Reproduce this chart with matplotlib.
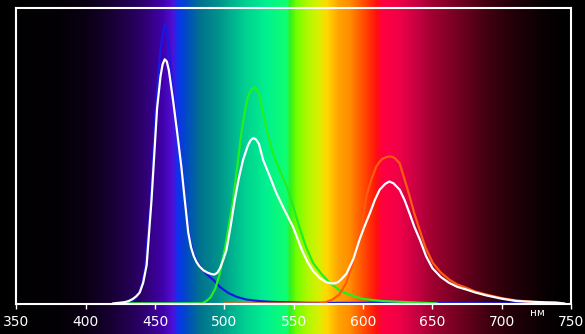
import numpy as np
import matplotlib.pyplot as plt

# spectrum readings, wavelength in nm, level 0..1 of the frame height
wl_white = [420, 428, 431, 434, 436.5, 439, 441.5, 444, 447.5, 451.5, 454, 455.5, 457, 458.5, 460,
            463, 466, 469, 471.5, 474, 476, 478, 480, 482, 485, 488, 491, 493, 495, 497, 499,
            501.5, 504.5, 507.5, 510.5, 513.5, 517, 519, 521, 523, 525, 528, 532, 537.5, 543,
            549.5, 556, 560, 564, 569, 573.5, 577, 579.5, 582, 584, 588, 593, 597.5, 601, 605,
            608.5, 612, 616, 619, 622, 626.5, 630, 633.5, 637, 641, 645.5, 650, 656, 662, 668,
            674.5, 681, 689, 700, 710.5, 720, 730, 739, 745]
white = [0.0, 0.004, 0.008, 0.015, 0.024, 0.037, 0.07, 0.13, 0.35, 0.66, 0.77, 0.81, 0.827, 0.82,
         0.79, 0.69, 0.58, 0.464, 0.35, 0.24, 0.19, 0.16, 0.14, 0.126, 0.112, 0.104, 0.099, 0.098,
         0.104, 0.12, 0.145, 0.18, 0.26, 0.35, 0.425, 0.486, 0.535, 0.553, 0.56, 0.555, 0.54,
         0.486, 0.44, 0.374, 0.32, 0.26, 0.18, 0.14, 0.11, 0.085, 0.072, 0.068, 0.068, 0.072,
         0.08, 0.10, 0.15, 0.216, 0.26, 0.306, 0.35, 0.385, 0.405, 0.413, 0.407, 0.385, 0.35,
         0.306, 0.26, 0.216, 0.16, 0.12, 0.09, 0.07, 0.056, 0.047, 0.037, 0.027, 0.016, 0.008,
         0.006, 0.004, 0.003, 0.0]

wl_blue = [425, 432, 435, 438, 440.5, 443, 447, 451, 454, 455.5, 457, 458.5, 460, 463, 466, 469,
           471.5, 474, 476, 478, 480, 482, 487, 492, 497, 503, 509, 516, 525, 535, 560, 740]
blue = [0.0, 0.005, 0.014, 0.03, 0.065, 0.12, 0.35, 0.70, 0.86, 0.91, 0.943, 0.93, 0.88, 0.72,
        0.59, 0.47, 0.35, 0.25, 0.2, 0.165, 0.145, 0.13, 0.10, 0.08, 0.055, 0.035, 0.022, 0.013,
        0.008, 0.005, 0.002, 0.0]

wl_green = [430, 484, 487, 490, 493.5, 496.7, 501, 506.3, 509.5, 512.3, 515, 517, 519.5, 521.4,
            523, 525, 528, 531.5, 535, 540, 545, 549, 554, 559, 564, 570, 576, 583, 590, 600,
            614, 653]
green = [0.0, 0.0, 0.008, 0.02, 0.05, 0.10, 0.20, 0.35, 0.47, 0.577, 0.655, 0.70, 0.725, 0.732,
         0.728, 0.71, 0.644, 0.57, 0.51, 0.45, 0.396, 0.34, 0.26, 0.19, 0.137, 0.10, 0.07, 0.045,
         0.03, 0.015, 0.008, 0.0]

wl_red = [500, 568, 573, 578, 583, 588, 592.7, 598.8, 602.4, 606, 609.6, 612, 614, 617, 619.2,
          621.5, 623, 626.4, 630, 633.6, 637, 640.8, 645, 650.4, 656, 662.4, 668, 674.5, 681,
          689, 700, 710.5, 720, 732]
red = [0.0, 0.0, 0.004, 0.013, 0.03, 0.07, 0.137, 0.26, 0.363, 0.42, 0.464, 0.48, 0.49, 0.496,
       0.498, 0.496, 0.492, 0.475, 0.42, 0.363, 0.305, 0.25, 0.19, 0.137, 0.105, 0.08, 0.064,
       0.053, 0.04, 0.03, 0.018, 0.01, 0.006, 0.0]

ticks = [350, 400, 450, 500, 550, 600, 650, 700, 750]

# background rainbow stops
spec_nm = [338, 380, 400, 420, 440, 455, 463, 466, 472, 482, 495, 505, 515, 530, 545, 547.5, 552,
           560, 568, 574, 583, 590, 600, 610, 614, 626, 641, 650, 670, 690, 710, 730, 745, 761]
spec_hex = ['000000', '030005', '0a0014', '180035', '2c0068', '4000a8', '5010d8', '1030f0',
            '0048c8', '007090', '00908a', '00b090', '00d090', '00f090', '10ff70', '30f020',
            '70ff00', 'b0f800', 'd8f000', 'ffd800', 'ffa000', 'ff9000', 'ff5000', 'ff1010',
            'ff0040', 'f00048', 'c00040', 'a00030', '700020', '400010', '200008', '0a0003',
            '000000', '000000']

W, H = 585, 334
x0, x1, y0, y1 = 16.3, 571.0, 8.3, 304.0
px_per_nm = (x1 - x0) / 400.0
lam_left = 350 - x0 / px_per_nm
lam_right = 750 + (W - x1) / px_per_nm

fig = plt.figure(figsize=(W / 100, H / 100), dpi=100)
fig.patch.set_facecolor('black')

bg = fig.add_axes([0, 0, 1, 1])
lam = np.linspace(lam_left, lam_right, W)
rgb = np.array([[int(h[i:i + 2], 16) / 255 for i in (0, 2, 4)] for h in spec_hex])
img = np.stack([np.interp(lam, spec_nm, rgb[:, c]) for c in range(3)], axis=-1)
bg.imshow(img[None, :, :], aspect='auto', extent=(lam_left, lam_right, 0, 1))
bg.set_xlim(lam_left, lam_right)
bg.set_axis_off()

ax = fig.add_axes([x0 / W, 1 - y1 / H, (x1 - x0) / W, (y1 - y0) / H])
ax.patch.set_alpha(0)
ax.plot(wl_blue, blue, color='#1818e0', lw=1.6, solid_joinstyle='round')
ax.plot(wl_green, green, color='#20f020', lw=1.6, solid_joinstyle='round')
ax.plot(wl_red, red, color='#ff5a10', lw=1.6, solid_joinstyle='round')
ax.plot(wl_white, white, color='white', lw=1.6, solid_joinstyle='round')
ax.set_xlim(350, 750)
ax.set_ylim(-0.002, 1)
ax.set_yticks([])
ax.set_xticks(ticks)
ax.set_xticklabels([str(t) for t in ticks], fontsize=10)
ax.tick_params(axis='x', colors='white', direction='out', length=3.5, width=1, pad=4.5)
for s in ax.spines.values():
    s.set_color('white')
    s.set_linewidth(1.5)

fig.text(537 / W, 1 - 313 / H, 'нм', color='white', fontsize=7.5, ha='center', va='center')

fig.savefig('out.png', dpi=100, facecolor='black')
